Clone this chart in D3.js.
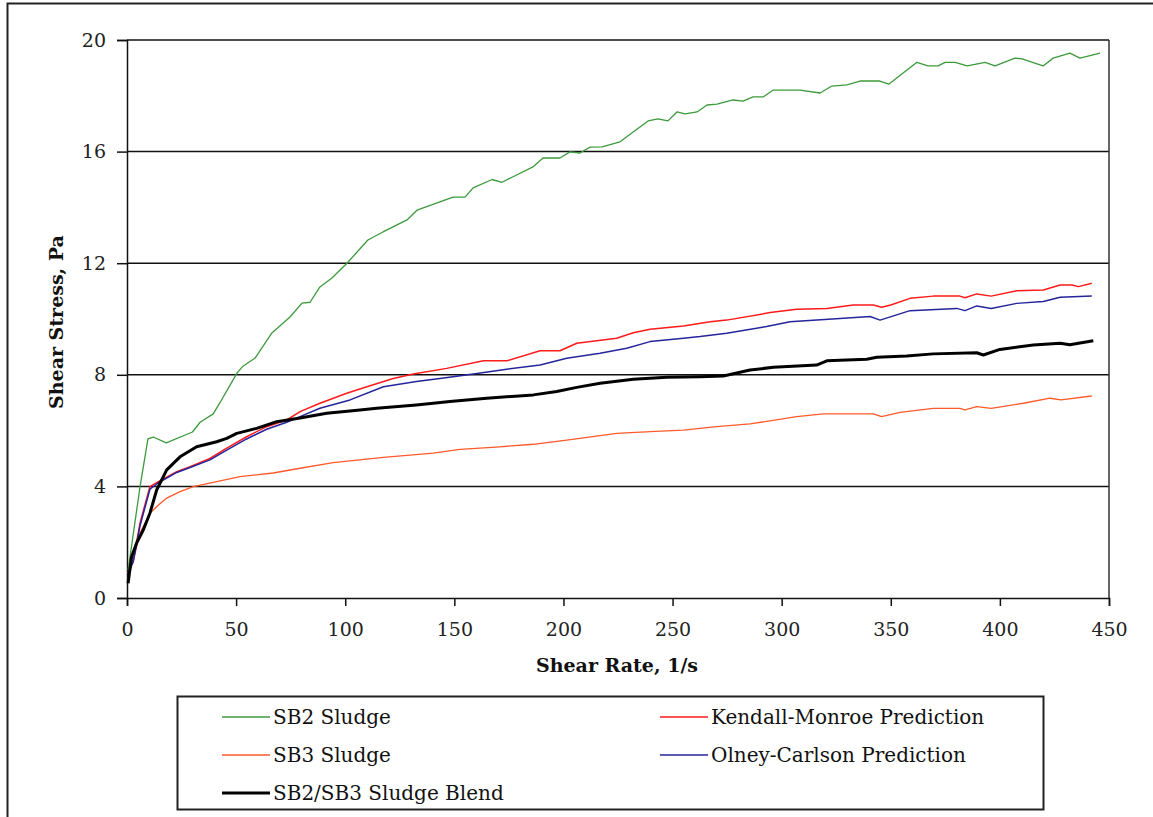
<!DOCTYPE html>
<html>
<head>
<meta charset="utf-8">
<script src="https://cdn.jsdelivr.net/npm/d3@7"></script>
<style>
  body { margin: 0; background: #fff; }
  text { font-family: "DejaVu Serif", serif; }
</style>
</head>
<body>
<div id="chart"></div>
<script>
// shear rate (1/s), shear stress (Pa) pairs
const sb2 = [[0.5,1.0],[6,4.0],[9.6,5.7],[12,5.77],[18,5.56],[30,5.95],[33.5,6.3],[39.5,6.6],[42.6,7.0],[50.4,8.06],[53,8.3],[58.7,8.6],[66.4,9.5],[74.7,10.07],[80.2,10.57],[83.9,10.6],[88.4,11.15],[93.9,11.47],[100.8,12.0],[110.4,12.83],[117.3,13.12],[128.3,13.55],[132.9,13.9],[143.4,14.2],[149.4,14.37],[154.9,14.37],[158.6,14.7],[167.3,15.0],[171.8,14.9],[176.9,15.1],[186,15.45],[190.6,15.77],[198.4,15.77],[203,15.99],[207.6,15.95],[212.2,16.16],[217.7,16.17],[225.9,16.35],[238.8,17.1],[243.3,17.17],[247.9,17.1],[252,17.42],[255.7,17.35],[261.2,17.42],[265.8,17.67],[270.4,17.7],[277.7,17.85],[282.3,17.81],[286.9,17.96],[291.5,17.96],[296,18.2],[308.4,18.2],[317.6,18.1],[323,18.35],[329.9,18.39],[335.9,18.53],[345,18.53],[349.2,18.42],[362,19.2],[367,19.07],[371.7,19.07],[374.9,19.2],[379.5,19.2],[385,19.07],[393.2,19.2],[397.8,19.07],[406.9,19.35],[410.2,19.32],[419.8,19.07],[424.4,19.35],[432.1,19.53],[436.7,19.35],[445.9,19.53]];

const sb3 = [[0.5,0.7],[3,1.4],[6,2.33],[10.5,3.04],[14.4,3.33],[18.2,3.58],[24.3,3.81],[30.4,3.99],[41.1,4.17],[51.8,4.35],[67,4.48],[79.3,4.65],[94.5,4.85],[117.5,5.04],[140.4,5.19],[152.6,5.33],[170.9,5.42],[186.2,5.51],[201.5,5.66],[224.4,5.9],[239.7,5.96],[255,6.02],[270.2,6.14],[285.5,6.24],[306.9,6.5],[319.1,6.6],[342,6.6],[345.8,6.5],[354.2,6.65],[369.4,6.8],[381.7,6.8],[384,6.74],[389.4,6.86],[396,6.8],[410.8,6.98],[423,7.16],[428,7.1],[442.1,7.24]];

const blend = [[0.5,0.53],[2.1,1.48],[4.4,1.97],[7.4,2.43],[10.5,3.04],[13.6,3.87],[18.2,4.59],[24.3,5.06],[31.9,5.42],[41.1,5.6],[45.7,5.72],[50.3,5.9],[59.4,6.08],[68.6,6.32],[79.3,6.45],[91.5,6.62],[106.8,6.74],[114.4,6.8],[132.6,6.92],[148,7.04],[164.8,7.16],[186.2,7.28],[196.9,7.4],[206.1,7.55],[216.8,7.7],[232,7.84],[247.3,7.91],[262.6,7.93],[273.3,7.96],[285.5,8.17],[296.2,8.27],[316,8.35],[320.7,8.5],[339,8.56],[343.6,8.63],[357.3,8.67],[369.4,8.75],[389.4,8.79],[392.4,8.71],[400,8.91],[415.3,9.07],[427.6,9.13],[432,9.08],[442.8,9.22]];

const kendall = [[0.5,0.9],[2.9,1.36],[6,2.7],[10.5,3.99],[14.4,4.17],[22.8,4.53],[28.9,4.71],[38,5.0],[45.7,5.37],[54.8,5.78],[64,6.14],[73.2,6.38],[79.3,6.68],[88.4,6.98],[100.7,7.34],[109.9,7.57],[122,7.87],[131.2,8.03],[146.5,8.23],[163.3,8.5],[174,8.5],[189.3,8.86],[198.4,8.86],[206.1,9.13],[224.4,9.31],[232,9.51],[239.7,9.63],[255,9.75],[267.2,9.9],[274.8,9.96],[294.7,10.23],[306.9,10.35],[320.7,10.38],[332.8,10.5],[342,10.5],[345.8,10.42],[350,10.5],[358.8,10.74],[369.4,10.82],[381.7,10.82],[384,10.76],[389.4,10.9],[396,10.82],[407.7,11.01],[419.9,11.04],[427.6,11.22],[433,11.22],[436,11.16],[442.1,11.28]];

const olney = [[0.5,0.9],[2.9,1.3],[6,2.6],[10.5,3.9],[14.4,4.13],[22.8,4.5],[28.9,4.68],[38,4.95],[45.7,5.3],[54.8,5.7],[64,6.05],[73.2,6.3],[79.3,6.5],[88.4,6.8],[102.2,7.1],[117.5,7.57],[132.6,7.76],[143.4,7.87],[158.7,8.03],[174,8.2],[189.3,8.35],[201.5,8.59],[216.8,8.77],[229,8.95],[239.7,9.19],[255,9.31],[262.6,9.37],[274.8,9.49],[293.1,9.73],[303.8,9.9],[326.7,10.02],[340.5,10.09],[345.1,9.96],[358.8,10.3],[380.2,10.38],[384,10.3],[389.4,10.47],[396,10.38],[407.7,10.56],[419.9,10.63],[427.6,10.78],[442.1,10.82]];

const xTicks = [0,50,100,150,200,250,300,350,400,450];
const yTicks = [0,4,8,12,16,20];

const series = [
  {name: "SB2 Sludge", data: sb2, color: "#3c9a3c", width: 1.3, col: 0, row: 0},
  {name: "Kendall-Monroe Prediction", data: kendall, color: "#ff1a1a", width: 1.5, col: 1, row: 0},
  {name: "SB3 Sludge", data: sb3, color: "#ff5a2a", width: 1.3, col: 0, row: 1},
  {name: "Olney-Carlson Prediction", data: olney, color: "#24249c", width: 1.5, col: 1, row: 1},
  {name: "SB2/SB3 Sludge Blend", data: blend, color: "#000000", width: 3, col: 0, row: 2}
];

const W = 1153, H = 817;
const margin = {top: 40, right: 44, bottom: 219, left: 127};
const gw = W - margin.left - margin.right;
const gh = H - margin.top - margin.bottom;

const svg = d3.select("#chart").append("svg")
  .attr("width", W).attr("height", H);

// outer frame
svg.append("rect")
  .attr("x", 7.5).attr("y", 3.5)
  .attr("width", 1200).attr("height", 900)
  .attr("fill", "none").attr("stroke", "#222").attr("stroke-width", 2);

const g = svg.append("g")
  .attr("transform", "translate(" + margin.left + "," + margin.top + ")");

const x = d3.scaleLinear().domain([0, 450]).range([0, gw]);
const y = d3.scaleLinear().domain([0, 20]).range([gh, 0]);

// gridlines
g.append("g")
  .selectAll("line")
  .data(yTicks.filter(d => d > 0))
  .join("line")
  .attr("x1", 0).attr("x2", gw)
  .attr("y1", d => y(d)).attr("y2", d => y(d))
  .attr("stroke", "#111").attr("stroke-width", 1.5);

// right border of plot
g.append("line")
  .attr("x1", gw).attr("x2", gw).attr("y1", 0).attr("y2", gh)
  .attr("stroke", "#333").attr("stroke-width", 1.5);

// axes
const xAxis = g.append("g")
  .attr("transform", "translate(0," + gh + ")")
  .call(d3.axisBottom(x).tickValues(xTicks).tickSize(8).tickPadding(17));

const yAxis = g.append("g")
  .call(d3.axisLeft(y).tickValues(yTicks).tickSize(10).tickPadding(11));

[xAxis, yAxis].forEach(a => {
  a.select(".domain").attr("stroke", "#111").attr("stroke-width", 1.5);
  a.selectAll(".tick line").attr("stroke", "#111").attr("stroke-width", 1.5);
  a.selectAll(".tick text")
    .attr("font-size", "19px")
    .attr("fill", "#222")
    .style("font-family", "'DejaVu Serif', serif");
});

// lines
const line = d3.line()
  .x(d => x(d[0]))
  .y(d => y(d[1]));

g.append("g")
  .selectAll("path")
  .data(series)
  .join("path")
  .attr("fill", "none")
  .attr("stroke", d => d.color)
  .attr("stroke-width", d => d.width)
  .attr("stroke-linejoin", "round")
  .attr("d", d => line(d.data));

// axis titles
svg.append("text")
  .attr("x", 617).attr("y", 672)
  .attr("text-anchor", "middle")
  .attr("font-size", "19px").attr("font-weight", "bold")
  .attr("fill", "#111")
  .text("Shear Rate, 1/s");

svg.append("text")
  .attr("transform", "translate(63,322) rotate(-90)")
  .attr("text-anchor", "middle")
  .attr("font-size", "19px").attr("font-weight", "bold")
  .attr("fill", "#111")
  .text("Shear Stress, Pa");

// legend
const legend = svg.append("g").attr("transform", "translate(177,696)");
legend.append("rect")
  .attr("x", 0.5).attr("y", 0.5)
  .attr("width", 866).attr("height", 113)
  .attr("fill", "#fff").attr("stroke", "#222").attr("stroke-width", 2);

const colX = [45, 483];
const rowY = [21, 59, 97];

const item = legend.selectAll(".item")
  .data(series)
  .join("g")
  .attr("class", "item")
  .attr("transform", d => "translate(" + colX[d.col] + "," + rowY[d.row] + ")");

item.append("line")
  .attr("x1", 0).attr("x2", 48)
  .attr("stroke", d => d.color)
  .attr("stroke-width", d => d.width);

item.append("text")
  .attr("x", 51).attr("y", 7)
  .attr("font-size", "20px")
  .attr("fill", "#111")
  .text(d => d.name);
</script>
</body>
</html>
